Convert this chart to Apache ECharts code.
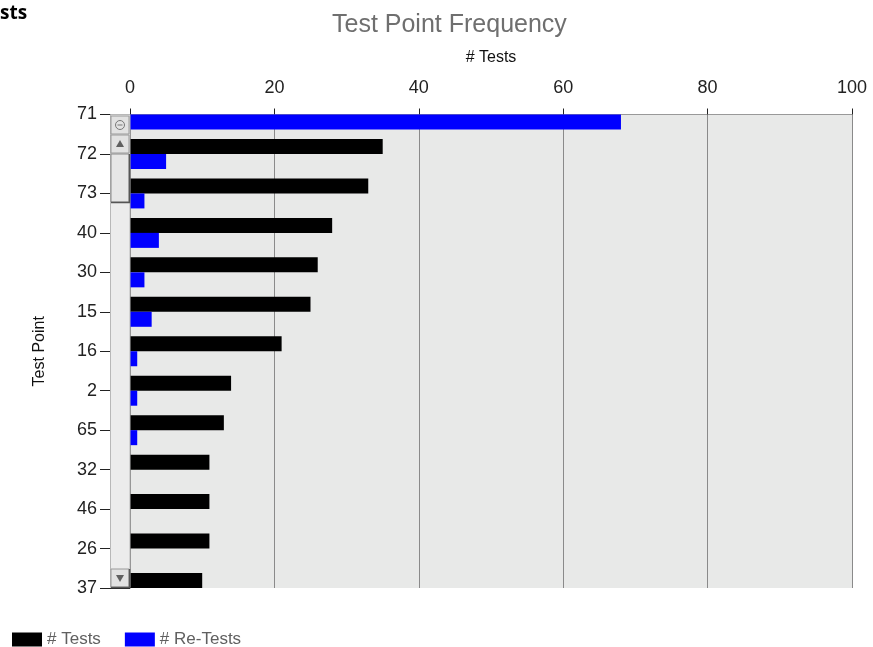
<!DOCTYPE html>
<html>
<head>
<meta charset="utf-8">
<script src="https://cdn.jsdelivr.net/npm/echarts@6/dist/echarts.min.js"></script>
<style>html,body{margin:0;padding:0;background:#fff;}#c{width:873px;height:647px;}</style>
</head>
<body>
<div id="c"></div>
<script>
const categories = ['71', '72', '73', '40', '30', '15', '16', '2', '65', '32', '46', '26', '37'];
// '# Tests' value for 71 is scrolled out of view in the reference, so it is left empty
const tests = [null, 35, 33, 28, 26, 25, 21, 14, 13, 11, 11, 11, 10];
const retests = [68, 5, 2, 4, 2, 3, 1, 1, 1, 0, 0, 0, 0];
const xTicks = [0, 20, 40, 60, 80, 100];

const FONT = '"Liberation Sans", Arial, sans-serif';
const chart = echarts.init(document.getElementById('c'));

const sbX = 110, sbW = 20, sbTop = 115, sbBot = 588;

chart.setOption({
  animation: false,
  backgroundColor: '#ffffff',
  title: {
    text: 'Test Point Frequency',
    left: 327, top: 8,
    textStyle: { fontFamily: FONT, fontSize: 25, fontWeight: 'normal', color: '#6f6f6f' }
  },
  legend: {
    left: 7, top: 626, icon: 'rect', itemWidth: 30, itemHeight: 14, itemGap: 24,
    textStyle: { fontFamily: FONT, fontSize: 17, color: '#606060' },
    data: ['# Tests', '# Re-Tests']
  },
  grid: {
    left: 130, right: 21, top: 114.5, bottom: 59,
    show: true, backgroundColor: '#e8e9e8', borderWidth: 0
  },
  xAxis: {
    type: 'value', position: 'top', min: 0, max: 100, interval: 20,
    name: '# Tests', nameLocation: 'middle', nameGap: 49,
    nameTextStyle: { fontFamily: FONT, fontSize: 16, color: '#111' },
    axisLine: { show: true, lineStyle: { color: '#999999', width: 1 } },
    axisTick: { show: true, inside: false, length: 6, lineStyle: { color: '#222', width: 1 } },
    axisLabel: { fontFamily: FONT, fontSize: 18, color: '#222', margin: 17,
      formatter: v => xTicks.includes(v) ? String(v) : '' },
    splitLine: { show: true, lineStyle: { color: '#8a8a8a', width: 1 } }
  },
  yAxis: {
    type: 'category', data: categories, inverse: true, boundaryGap: false,
    name: 'Test Point', nameLocation: 'middle', nameGap: 82,
    nameTextStyle: { fontFamily: FONT, fontSize: 16, color: '#111' },
    axisLine: { show: true, lineStyle: { color: '#777777', width: 1 } },
    axisTick: { show: true, inside: false, length: 30, interval: 0, lineStyle: { color: '#222', width: 1 } },
    axisLabel: { fontFamily: FONT, fontSize: 18, color: '#222', margin: 33, interval: 0 },
    splitLine: { show: false }
  },
  series: [
    { name: '# Tests', type: 'bar', data: tests, barWidth: 15, barGap: '0%', clip: true,
      itemStyle: { color: '#000000' } },
    { name: '# Re-Tests', type: 'bar', data: retests, barWidth: 15, barGap: '0%', clip: true,
      itemStyle: { color: '#0000ff' } }
  ],
  graphic: [
    { type: 'text', left: 0, top: 4, style: { text: 'sts', font: 'bold 19px "Open Sans", sans-serif', fill: '#000' } },
    // scrollbar track (covers the inner part of the category ticks)
    { type: 'rect', shape: { x: sbX + 0.5, y: sbTop - 0.5, width: sbW - 0.5, height: sbBot - sbTop }, style: { fill: '#ececec', stroke: '#b8b8b8', lineWidth: 1 }, z: 10 },
    // zoom reset button
    { type: 'rect', shape: { x: sbX + 1, y: 116, width: 18, height: 18 }, style: { fill: '#e2e2e2', stroke: '#9a9a9a', lineWidth: 1 }, z: 11 },
    { type: 'circle', shape: { cx: sbX + 10, cy: 125, r: 4.5 }, style: { fill: 'none', stroke: '#777', lineWidth: 1 }, z: 12 },
    { type: 'line', shape: { x1: sbX + 7.5, y1: 125, x2: sbX + 12.5, y2: 125 }, style: { stroke: '#777', lineWidth: 1 }, z: 12 },
    // up button
    { type: 'rect', shape: { x: sbX + 1, y: 135, width: 18, height: 18 }, style: { fill: '#e2e2e2', stroke: '#9a9a9a', lineWidth: 1 }, z: 11 },
    { type: 'polygon', shape: { points: [[sbX + 10, 140], [sbX + 14, 147], [sbX + 6, 147]] }, style: { fill: '#606060' }, z: 12 },
    // thumb
    { type: 'rect', shape: { x: sbX + 1, y: 154, width: 18, height: 48 }, style: { fill: '#e6e6e6', stroke: '#8a8a8a', lineWidth: 1 }, z: 11 },
    { type: 'polyline', shape: { points: [[sbX + 19.5, 154], [sbX + 19.5, 202.5], [sbX + 1, 202.5]] }, style: { stroke: '#555', lineWidth: 1.5, fill: 'none' }, z: 12 },
    // down button
    { type: 'rect', shape: { x: sbX + 1, y: 569, width: 18, height: 18 }, style: { fill: '#e2e2e2', stroke: '#9a9a9a', lineWidth: 1 }, z: 11 },
    { type: 'polyline', shape: { points: [[sbX + 19.5, 569], [sbX + 19.5, 587.5], [sbX + 1, 587.5]] }, style: { stroke: '#555', lineWidth: 1.5, fill: 'none' }, z: 12 },
    { type: 'polygon', shape: { points: [[sbX + 6, 575], [sbX + 14, 575], [sbX + 10, 582]] }, style: { fill: '#606060' }, z: 12 }
  ]
});
</script>
</body>
</html>
